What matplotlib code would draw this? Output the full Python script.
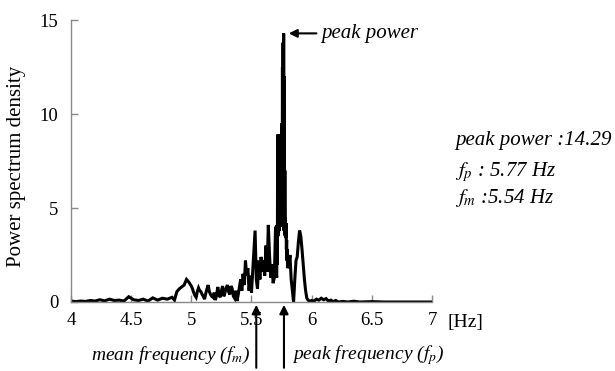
import matplotlib
matplotlib.use("Agg")
import matplotlib.pyplot as plt

plt.rcParams['font.family'] = ['Liberation Serif', 'DejaVu Serif']
plt.rcParams['mathtext.fontset'] = 'stix'

# power spectrum, frequency in Hz
freq = [4.00, 4.04, 4.08, 4.12, 4.16, 4.20, 4.24, 4.28, 4.32, 4.36, 4.40, 4.44,
        4.48, 4.52, 4.56, 4.60, 4.64, 4.68, 4.72, 4.76, 4.80, 4.84,
        4.86, 4.88, 4.90, 4.92, 4.94, 4.96, 4.98, 5.00, 5.01, 5.02, 5.03, 5.04,
        5.05, 5.06, 5.07, 5.08, 5.09, 5.10, 5.11, 5.12, 5.13, 5.14, 5.15, 5.16,
        5.17, 5.18, 5.19, 5.20, 5.21, 5.22, 5.23, 5.24, 5.25, 5.26, 5.27, 5.28,
        5.29, 5.30, 5.31, 5.32, 5.33, 5.34, 5.35, 5.36, 5.37, 5.38, 5.39, 5.40,
        5.41, 5.42, 5.43, 5.44, 5.45, 5.46, 5.47, 5.48, 5.49, 5.50, 5.51, 5.52,
        5.53, 5.54, 5.55, 5.56, 5.57, 5.58, 5.59, 5.60, 5.61, 5.62, 5.63, 5.64,
        5.65, 5.66, 5.67, 5.68, 5.69, 5.70, 5.705,
        5.7100, 5.7125, 5.7150, 5.7175, 5.7200, 5.7225, 5.7250, 5.7275, 5.7300,
        5.7325, 5.7350, 5.7375, 5.7400, 5.7425, 5.7450, 5.7475, 5.7500, 5.7525,
        5.7550, 5.7575, 5.7600, 5.7625, 5.7650, 5.7675, 5.7700, 5.7725, 5.7750,
        5.7775, 5.7800, 5.7825, 5.7850, 5.7875, 5.7900, 5.7925, 5.7950, 5.7975,
        5.8000,
        5.81, 5.82, 5.83, 5.84, 5.85, 5.86, 5.87, 5.88, 5.89, 5.90, 5.91, 5.92,
        5.93, 5.94, 5.95, 5.96, 5.97, 5.98, 5.99, 6.00, 6.02, 6.04, 6.06, 6.08,
        6.10, 6.12, 6.14, 6.16, 6.18, 6.20, 6.22, 6.26, 6.30, 6.35, 6.40, 6.50,
        6.60, 6.80, 7.00]
psd = [0.05, 0.02, 0.05, 0.03, 0.08, 0.05, 0.12, 0.06, 0.15, 0.08, 0.10, 0.05,
       0.28, 0.12, 0.08, 0.15, 0.05, 0.22, 0.10, 0.20, 0.15, 0.25,
       0.10, 0.55, 0.70, 0.80, 0.90, 1.20, 1.05, 0.85, 0.70, 0.50, 0.35, 0.25,
       0.55, 0.75, 0.60, 0.55, 0.40, 0.30, 0.15, 0.45, 0.70, 0.90, 0.55, 0.40,
       0.30, 0.25, 0.50, 0.10, 0.35, 0.80, 0.40, 0.25, 0.60, 0.85, 0.30, 0.50,
       0.75, 0.90, 0.55, 0.40, 0.85, 0.70, 0.30, 0.20, 0.60, 0.05, 0.40, 0.80,
       1.20, 0.60, 1.50, 0.90, 2.20, 1.40, 1.80, 0.60, 1.40, 0.50, 1.60, 2.60,
       3.80, 1.20, 0.70, 2.20, 1.20, 2.40, 1.60, 2.20, 1.40, 3.00, 1.60, 4.10,
       2.50, 1.30, 2.00, 1.00, 1.30, 4.00, 1.60,
       1.30, 4.10, 2.00, 8.90, 3.50, 8.90, 3.70, 8.80, 3.80,
       8.90, 4.00, 8.70, 4.20, 8.90, 4.40, 8.60, 4.50, 9.50,
       4.30, 12.50, 4.00, 13.80, 4.30, 14.29, 3.80, 12.00, 3.60,
       7.00, 3.50, 4.50, 3.40, 4.20, 2.80, 3.30, 2.20, 2.80,
       1.80,
       2.00, 2.50, 1.20, 0.60, 0.00, 1.20, 2.20, 2.40, 3.20, 3.80, 3.50, 2.80,
       2.00, 1.20, 0.60, 0.20, 0.10, 0.05, 0.05, 0.08, 0.05, 0.15, 0.10, 0.20,
       0.12, 0.18, 0.05, 0.10, 0.02, 0.08, 0.00, 0.03, 0.00, 0.04, 0.00, 0.02,
       0.00, 0.00, 0.00]

xticks = [4, 4.5, 5, 5.5, 6, 6.5, 7]
xticklabels = ['4', '4.5', '5', '5.5', '6', '6.5', '7']
yticks = [0, 5, 10, 15]

peak_power = 14.29
f_peak = 5.77
f_mean = 5.54

fig = plt.figure(figsize=(6.15, 3.71), dpi=100)
ax = fig.add_axes([0.1154, 0.186, 0.587, 0.76])

ax.plot(freq, psd, color='black', lw=2.2, solid_joinstyle='miter')

ax.set_xlim(4, 7)
ax.set_ylim(0, 15)
ax.set_xticks(xticks)
ax.set_xticklabels(xticklabels)
ax.set_yticks(yticks)
ax.tick_params(direction='in', length=5, width=1, color='#888888',
               labelsize=13.5)
ax.tick_params(axis='x', pad=7)
ax.tick_params(axis='y', pad=9)
for s in ['top', 'right']:
    ax.spines[s].set_visible(False)
for s in ['left', 'bottom']:
    ax.spines[s].set_color('#888888')
    ax.spines[s].set_linewidth(1)
ax.set_ylabel('Power spectrum density', fontsize=15)
ax.yaxis.set_label_coords(-0.125, 0.48)

fig.text(0.727, 0.13, '[Hz]', fontsize=14, va='center', ha='left')

# arrow to the peak
ax.annotate('', xy=(5.81, peak_power), xytext=(6.04, peak_power),
            arrowprops=dict(arrowstyle='-|>', color='black', lw=1.5,
                            mutation_scale=12, shrinkA=0, shrinkB=0))
ax.text(6.08, peak_power, 'peak power', fontsize=15, style='italic',
        va='center', ha='left')

# arrows under the axis
for f in [f_mean, f_peak]:
    ax.annotate('', xy=(f, -0.15), xytext=(f, -3.5),
                arrowprops=dict(arrowstyle='-|>', color='black', lw=1.5,
                                mutation_scale=13, shrinkA=0, shrinkB=0),
                annotation_clip=False)
fig.text(0.407, 0.043, r'mean frequency ($f_m$)', fontsize=14, style='italic',
         ha='right', va='center')
fig.text(0.475, 0.043, r'peak frequency ($f_p$)', fontsize=14, style='italic',
         ha='left', va='center')

# summary on the right
fig.text(0.74, 0.62, 'peak power :%.2f' % peak_power, fontsize=15,
         style='italic', va='center')
fig.text(0.74, 0.536, r'$f_p$ : %.2f Hz' % f_peak, fontsize=15,
         style='italic', va='center')
fig.text(0.74, 0.466, r'$f_m$ :%.2f Hz' % f_mean, fontsize=15,
         style='italic', va='center')

fig.savefig('out.png', dpi=100)
